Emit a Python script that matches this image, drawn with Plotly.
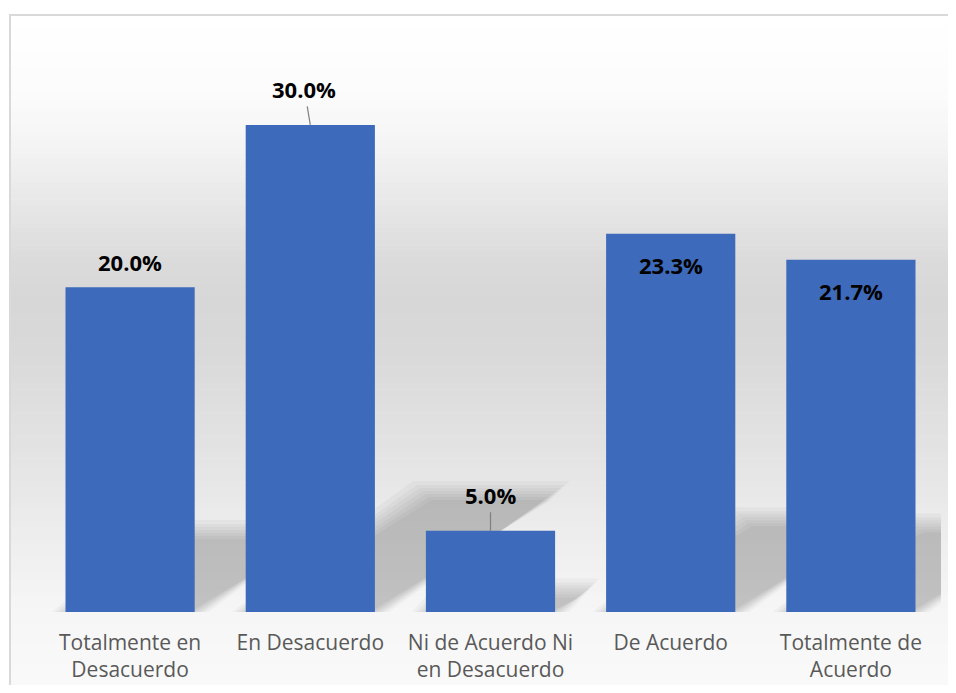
import plotly.graph_objects as go
import numpy as np

# ---- data ----
categories = ["Totalmente en<br>Desacuerdo", "En Desacuerdo",
              "Ni de Acuerdo Ni<br>en Desacuerdo", "De Acuerdo",
              "Totalmente de<br>Acuerdo"]
values = [20.0, 30.0, 5.0, 23.3, 21.7]
value_labels = ["20.0%", "30.0%", "5.0%", "23.3%", "21.7%"]

# ---- layout geometry (style) ----
OFF = 8  # page body margin
W, H = 948, 677
ML, MR, MT, MB = 32, 15, 52, 73
PW, PH = W - ML - MR, H - MT - MB
YMAX = 34
BARW = 0.717
px_per_x = PW / 5.0
px_per_y = PH / YMAX


def paper_x(sx):
    return (sx - OFF - ML) / PW


def paper_y(sy):
    return (H - MB - (sy - OFF)) / PH


shapes = []

# background vertical gradient (white -> gray -> white), screen px
stops = [(15, 255), (100, 251), (150, 243), (200, 232), (260, 219), (300, 215),
         (350, 217), (400, 222), (450, 227), (500, 233), (560, 240), (612, 246), (700, 250)]
sy = [s[0] for s in stops]
sg = [s[1] for s in stops]
edges = np.linspace(15, 700, 120)
for a, b in zip(edges[:-1], edges[1:]):
    g = int(round(np.interp((a + b) / 2, sy, sg)))
    shapes.append(dict(type="rect", xref="paper", yref="paper",
                       x0=paper_x(10), x1=paper_x(970), y0=paper_y(b + 0.6), y1=paper_y(a),
                       fillcolor=f"rgb({g},{g},{g})", line=dict(width=0), layer="below"))

# border
shapes.append(dict(type="rect", xref="paper", yref="paper",
                   x0=paper_x(10), x1=paper_x(975), y0=paper_y(720), y1=paper_y(15),
                   fillcolor="rgba(0,0,0,0)", line=dict(color="#d9d9d9", width=2), layer="below"))

# perspective shadows behind bars (soft edges by stacking)
SH_RATIO = 0.24
SKEW = 1.55
hw = BARW / 2
for i, v in enumerate(values):
    h = SH_RATIO * v
    dx = SKEW * h * px_per_y / px_per_x
    for e in [14, 10, 7, 4, 1, -2, -5]:
        ex = e / px_per_x
        ey = e / px_per_y
        x0l, x0r = i - hw - ex, i + hw + ex
        path = (f"M {x0l},0 L {x0r},0 L {x0r + dx},{h + ey} "
                f"L {x0l + dx},{h + ey} Z")
        shapes.append(dict(type="path", xref="x", yref="y", path=path,
                           fillcolor="rgba(0,0,0,0.033)", line=dict(width=0), layer="below"))

fig = go.Figure()
fig.add_trace(go.Bar(
    x=list(range(len(values))), y=values, width=BARW,
    marker=dict(color="#3d6aba", line=dict(width=0)),
    hoverinfo="skip",
))

# value labels
label_font = dict(family="Open Sans", size=22, color="#000000")
offsets = [("out", 25), ("arrow", (-6, -36)), ("arrow", (0, -36)), ("in", -31), ("in", -31)]
annotations = []
for i, (v, t) in enumerate(zip(values, value_labels)):
    kind, off = offsets[i]
    if kind == "arrow":
        annotations.append(dict(x=i, y=v, xref="x", yref="y", text=f"<b>{t}</b>",
                                showarrow=True, arrowhead=0, arrowwidth=1.2,
                                arrowcolor="#7f7f7f", ax=off[0], ay=off[1],
                                font=label_font, borderpad=2))
    else:
        annotations.append(dict(x=i, y=v, xref="x", yref="y", text=f"<b>{t}</b>",
                                showarrow=False, yshift=off, yanchor="middle",
                                font=label_font))

fig.update_layout(
    width=W, height=H,
    margin=dict(l=ML, r=MR, t=MT, b=MB, autoexpand=False),
    paper_bgcolor="white",
    plot_bgcolor="rgba(0,0,0,0)",
    showlegend=False,
    shapes=shapes,
    annotations=annotations,
    xaxis=dict(range=[-0.5, 4.5], tickmode="array", tickvals=list(range(5)),
               ticktext=categories, showgrid=False, zeroline=False, showline=False,
               ticks="", ticklabelstandoff=16, automargin=False,
               tickfont=dict(family="Open Sans", size=21, color="#595959"),
               fixedrange=True),
    yaxis=dict(range=[0, YMAX], visible=False, showgrid=False, zeroline=False,
               automargin=False, fixedrange=True),
)

fig.write_html("out.html")
